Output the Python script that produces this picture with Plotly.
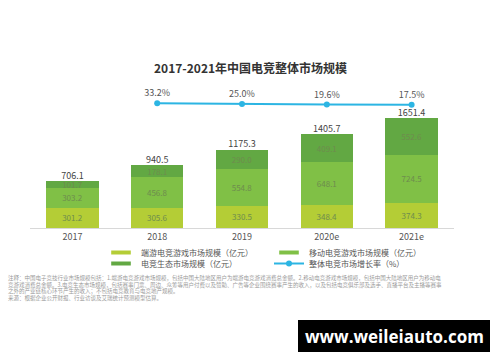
import plotly.graph_objects as go

years = ["2017", "2018", "2019", "2020e", "2021e"]
pc_game = [301.2, 305.6, 330.5, 348.4, 374.3]
mobile_game = [303.2, 456.8, 554.8, 648.1, 724.5]
ecosystem = [101.7, 178.1, 290.0, 409.1, 552.6]
totals = [706.1, 940.5, 1175.3, 1405.7, 1651.4]
growth_years = ["2018", "2019", "2020e", "2021e"]
growth = [33.2, 25.0, 19.6, 17.5]

W, H = 500, 362
def py(pix):
    return 1 - pix / H

font_cjk = "Noto Sans CJK SC, Noto Sans, sans-serif"
inside_col = "#6e8c4e"
line_col = "#2cb5e3"

series = [
    ("端游电竞游戏市场规模（亿元）", pc_game, "#b4cd36", "legend"),
    ("移动电竞游戏市场规模（亿元）", mobile_game, "#80c046", "legend"),
    ("电竞生态市场规模（亿元）", ecosystem, "#62a843", "legend2"),
]

fig = go.Figure()
for name, vals, col, lg in series:
    fig.add_trace(go.Bar(
        x=years, y=vals, name=name, marker=dict(color=col, line=dict(width=0)),
        text=[f"{v:.1f}" for v in vals], textposition="inside",
        insidetextanchor="middle", textfont=dict(color=inside_col, size=8, family=font_cjk),
        showlegend=False, hoverinfo="skip",
    ))

fig.add_trace(go.Scatter(
    x=years, y=totals, mode="text", text=[f"{v:.1f}" for v in totals],
    textposition="top center", textfont=dict(color="#444444", size=9, family=font_cjk),
    showlegend=False, hoverinfo="skip", cliponaxis=False,
))

# legend entries for the bar series (thin horizontal swatches)
for name, vals, col, lg in series:
    fig.add_trace(go.Scatter(
        x=[None], y=[None], mode="markers", name=name, legend=lg,
        marker=dict(symbol="line-ew-open", size=14, color=col, line=dict(color=col, width=4)),
        hoverinfo="skip",
    ))

fig.add_trace(go.Scatter(
    x=growth_years, y=growth, yaxis="y2", mode="lines+markers+text",
    name="整体电竞市场增长率（%）", line=dict(color=line_col, width=2),
    marker=dict(color=line_col, size=6),
    text=[f"{v:.1f}%" for v in growth], textposition="top center",
    textfont=dict(color="#555555", size=9, family=font_cjk),
    legend="legend2", cliponaxis=False, hoverinfo="skip",
))

plot_top, plot_bot = 88, 228
x0, x1 = 30, 454

legend_common = dict(orientation="h", xanchor="left", yanchor="top",
                     entrywidth=123, entrywidthmode="pixels",
                     font=dict(size=8, color="#555555"), itemwidth=30,
                     bgcolor="rgba(0,0,0,0)", traceorder="normal")

fig.update_layout(
    width=W, height=H, margin=dict(l=0, r=0, t=0, b=0, pad=0, autoexpand=False),
    paper_bgcolor="white", plot_bgcolor="white",
    barmode="stack", bargap=0.38,
    font=dict(family=font_cjk, color="#555555"),
    uniformtext=dict(minsize=7.5, mode="show"),
    xaxis=dict(domain=[x0 / W, x1 / W], showgrid=False, showline=True,
               linecolor="#d8d8d8", linewidth=1, ticks="",
               tickfont=dict(size=9, color="#555555")),
    yaxis=dict(domain=[py(plot_bot), py(plot_top)], range=[0, 2102],
               visible=False, showgrid=False, zeroline=False),
    yaxis2=dict(overlaying="y", range=[-1215, 185], visible=False,
                showgrid=False, zeroline=False),
    legend=dict(x=101 / W, y=py(238), **legend_common),
    legend2=dict(x=101 / W, y=py(249), **legend_common),
    showlegend=True,
)

fig.add_annotation(text="<b>2017-2021年中国电竞整体市场规模</b>", x=0.5, y=py(68),
                   xref="paper", yref="paper", xanchor="center", yanchor="middle",
                   showarrow=False, font=dict(size=12, color="#333333", family=font_cjk))

notes = [
    "注释：中国电子竞技行业市场规模包括：1.端游电竞游戏市场规模，包括中国大陆地区用户为端游电竞游戏消费总金额。2.移动电竞游戏市场规模，包括中国大陆地区用户为移动电",
    "竞游戏消费总金额。3.电竞生态市场规模，包括赛事门票、周边、众筹等用户付费以及赞助、广告等企业围绕赛事产生的收入，以及包括电竞俱乐部及选手、直播平台及主播等赛事",
    "之外的产业链核心环节产生的收入；不包括电竞教育与电竞地产规模。",
    "来源：根据企业公开财报、行业访谈及艾瑞统计预测模型估算。",
]
for i, line in enumerate(notes):
    fig.add_annotation(text=line, x=6 / W, y=py(278 + i * 6.5), xref="paper", yref="paper",
                       xanchor="left", yanchor="middle", showarrow=False,
                       font=dict(size=5.5, color="#9a9a9a", family=font_cjk))

fig.add_shape(type="rect", xref="paper", yref="paper", x0=298 / W, x1=490 / W,
              y0=py(352), y1=py(320), fillcolor="black", line=dict(width=0), layer="above")
fig.add_annotation(text="<b>www.weileiauto.com</b>", x=394 / W, y=py(336), xref="paper",
                   yref="paper", xanchor="center", yanchor="middle", showarrow=False,
                   font=dict(size=17, color="white", family="Open Sans, DejaVu Sans, sans-serif"))

fig.write_html("out.html", config={"displayModeBar": False},
               post_script="document.body.style.margin='0px';")
